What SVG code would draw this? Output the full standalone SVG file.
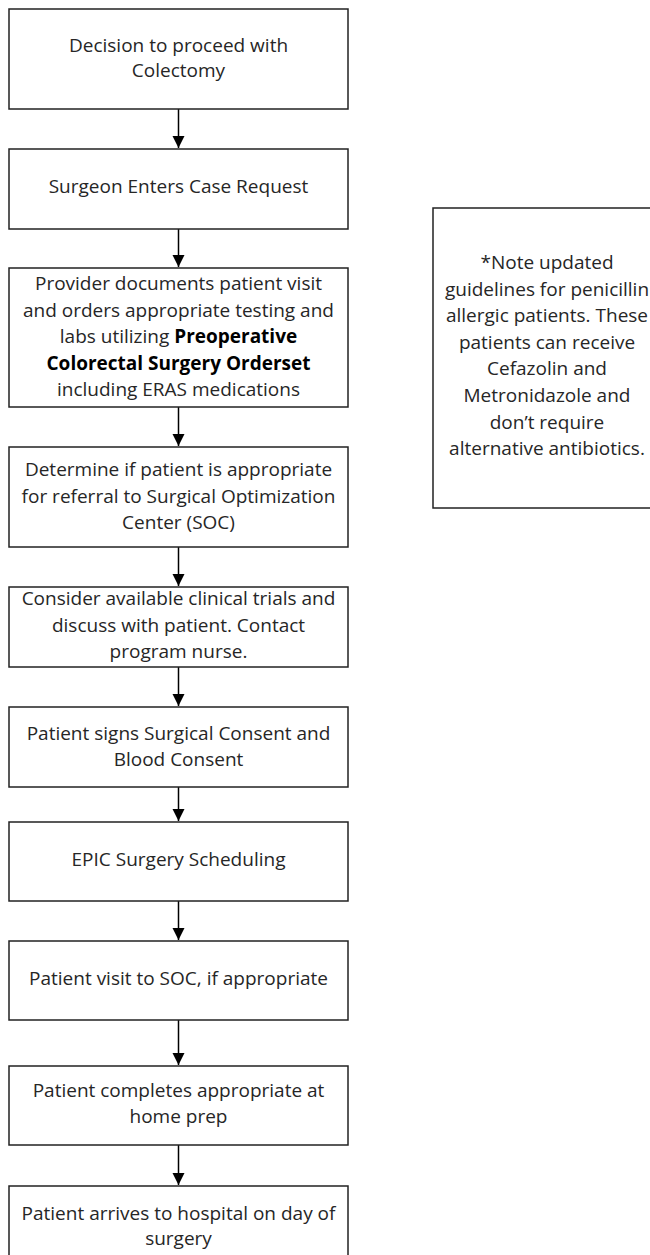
<svg xmlns="http://www.w3.org/2000/svg" width="650" height="1255" viewBox="0 0 650 1255">
  <defs>
    <marker id="arrow" markerUnits="userSpaceOnUse" markerWidth="12" markerHeight="13" refX="12" refY="6" orient="auto">
      <path d="M0,0 L12,6 L0,12 Z" fill="#000"/>
    </marker>
    <style>
      .box { fill: #fff; stroke: #222; stroke-width: 1.5; }
      .t { font-family: "Open Sans", "Noto Sans", sans-serif; font-size: 19px; fill: #262626; text-anchor: middle; }
      .b { font-weight: bold; fill: #000; }
      .conn line { stroke: #000; stroke-width: 1.5; marker-end: url(#arrow); }
    </style>
  </defs>
  <rect width="650" height="1255" fill="#fff"/>

  <g id="connectors" class="conn">
    <line x1="178.5" y1="109" x2="178.5" y2="148"/>
    <line x1="178.5" y1="229" x2="178.5" y2="267"/>
    <line x1="178.5" y1="407" x2="178.5" y2="446"/>
    <line x1="178.5" y1="547" x2="178.5" y2="586"/>
    <line x1="178.5" y1="667" x2="178.5" y2="706"/>
    <line x1="178.5" y1="787" x2="178.5" y2="821"/>
    <line x1="178.5" y1="901" x2="178.5" y2="940"/>
    <line x1="178.5" y1="1020" x2="178.5" y2="1065"/>
    <line x1="178.5" y1="1145" x2="178.5" y2="1185"/>
  </g>

  <g id="n1">
    <rect class="box" x="9" y="9" width="339" height="100"/>
    <text class="t" x="178.5" y="52">Decision to proceed with</text>
    <text class="t" x="178.5" y="77">Colectomy</text>
  </g>
  <g id="n2">
    <rect class="box" x="9" y="149" width="339" height="80"/>
    <text class="t" x="178.5" y="193">Surgeon Enters Case Request</text>
  </g>
  <g id="n3">
    <rect class="box" x="9" y="268" width="339" height="139"/>
    <text class="t" x="178.5" y="290">Provider documents patient visit</text>
    <text class="t" x="178.5" y="316.5">and orders appropriate testing and</text>
    <text class="t" x="178.5" y="343">labs utilizing <tspan class="b">Preoperative</tspan></text>
    <text class="t b" x="178.5" y="369.5">Colorectal Surgery Orderset</text>
    <text class="t" x="178.5" y="396">including ERAS medications</text>
  </g>
  <g id="n4">
    <rect class="box" x="9" y="447" width="339" height="100"/>
    <text class="t" x="178.5" y="476">Determine if patient is appropriate</text>
    <text class="t" x="178.5" y="502.5">for referral to Surgical Optimization</text>
    <text class="t" x="178.5" y="529">Center (SOC)</text>
  </g>
  <g id="n5">
    <rect class="box" x="9" y="587" width="339" height="80"/>
    <text class="t" x="178.5" y="605">Consider available clinical trials and</text>
    <text class="t" x="178.5" y="631.5">discuss with patient. Contact</text>
    <text class="t" x="178.5" y="658">program nurse.</text>
  </g>
  <g id="n6">
    <rect class="box" x="9" y="707" width="339" height="80"/>
    <text class="t" x="178.5" y="740">Patient signs Surgical Consent and</text>
    <text class="t" x="178.5" y="766">Blood Consent</text>
  </g>
  <g id="n7">
    <rect class="box" x="9" y="822" width="339" height="79"/>
    <text class="t" x="178.5" y="866">EPIC Surgery Scheduling</text>
  </g>
  <g id="n8">
    <rect class="box" x="9" y="941" width="339" height="79"/>
    <text class="t" x="178.5" y="985">Patient visit to SOC, if appropriate</text>
  </g>
  <g id="n9">
    <rect class="box" x="9" y="1066" width="339" height="79"/>
    <text class="t" x="178.5" y="1097">Patient completes appropriate at</text>
    <text class="t" x="178.5" y="1123">home prep</text>
  </g>
  <g id="n10">
    <rect class="box" x="9" y="1186" width="339" height="80"/>
    <text class="t" x="178.5" y="1220">Patient arrives to hospital on day of</text>
    <text class="t" x="178.5" y="1245">surgery</text>
  </g>

  <g id="note">
    <rect class="box" x="433" y="208" width="228" height="300"/>
    <text class="t" x="547" y="269">*Note updated</text>
    <text class="t" x="547" y="295.6">guidelines for penicillin</text>
    <text class="t" x="547" y="322.2">allergic patients. These</text>
    <text class="t" x="547" y="348.8">patients can receive</text>
    <text class="t" x="547" y="375.4">Cefazolin and</text>
    <text class="t" x="547" y="402">Metronidazole and</text>
    <text class="t" x="547" y="428.6">don’t require</text>
    <text class="t" x="547" y="455.2">alternative antibiotics.</text>
  </g>
</svg>
